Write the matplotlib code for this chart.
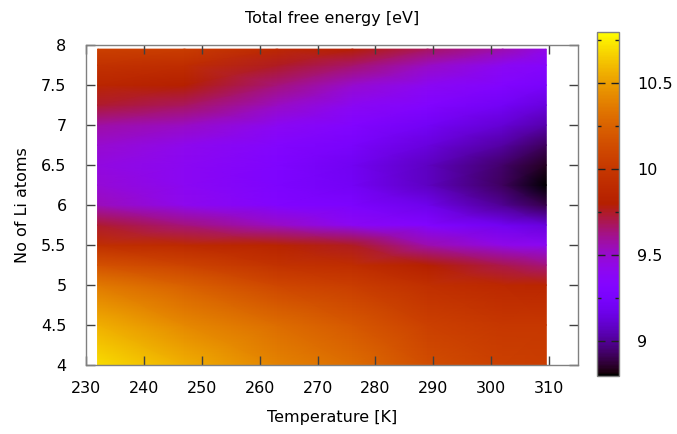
import numpy as np
import matplotlib
matplotlib.use("Agg")
import matplotlib.pyplot as plt
from matplotlib.ticker import MultipleLocator

# Temperature columns [K] and number of Li atoms rows
temperature = [232, 247, 263, 276, 289, 302, 309.5]
n_li = [4.0, 4.5, 5.0, 5.25, 5.5, 5.75, 6.0, 6.25, 6.5, 6.75, 7.0, 7.25, 7.5, 7.75, 7.95]

# Total free energy [eV] (one list per temperature column, rows follow n_li)
F_232 = [10.70, 10.56, 10.36, 10.16, 9.94, 9.74, 9.54, 9.48, 9.46, 9.50, 9.58, 9.74, 9.86, 9.96, 10.06]
F_247 = [10.56, 10.42, 10.24, 10.08, 9.90, 9.64, 9.42, 9.40, 9.40, 9.42, 9.52, 9.68, 9.80, 9.92, 10.04]
F_263 = [10.40, 10.30, 10.10, 9.96, 9.84, 9.52, 9.32, 9.29, 9.30, 9.33, 9.40, 9.52, 9.64, 9.76, 9.88]
F_276 = [10.30, 10.20, 10.04, 9.92, 9.76, 9.40, 9.28, 9.22, 9.20, 9.26, 9.32, 9.40, 9.50, 9.66, 9.80]
F_289 = [10.14, 10.06, 9.94, 9.80, 9.56, 9.32, 9.18, 9.08, 9.08, 9.14, 9.22, 9.32, 9.40, 9.52, 9.68]
F_302 = [10.06, 10.00, 9.88, 9.70, 9.44, 9.20, 9.00, 8.92, 8.94, 9.02, 9.12, 9.22, 9.32, 9.40, 9.56]
F_310 = [10.04, 10.00, 9.86, 9.64, 9.40, 9.14, 8.90, 8.80, 8.84, 8.92, 9.04, 9.14, 9.26, 9.34, 9.44]

cb_range = [8.8, 10.8]
cb_ticks = [9, 9.5, 10, 10.5]
x_ticks = [230, 240, 250, 260, 270, 280, 290, 300, 310]
y_ticks = [4, 4.5, 5, 5.5, 6, 6.5, 7, 7.5, 8]

Z = np.array([F_232, F_247, F_263, F_276, F_289, F_302, F_310]).T
T, N = np.meshgrid(temperature, n_li)

FS = 11.5
plt.rcParams['font.family'] = ['DejaVu Sans']
fig = plt.figure(figsize=(6.77, 4.34), dpi=100)
ax = fig.add_axes([0.127, 0.159, 0.727, 0.737])
cax = fig.add_axes([0.882, 0.134, 0.032, 0.793])

mesh = ax.pcolormesh(T, N, Z, shading='gouraud', cmap='gnuplot',
                     vmin=cb_range[0], vmax=cb_range[1], rasterized=True)

ax.set_xlim(230, 315)
ax.set_ylim(4, 8)
ax.set_xticks(x_ticks)
ax.set_yticks(y_ticks)
ax.set_yticklabels([f"{v:g}" for v in y_ticks])
ax.tick_params(direction='in', top=True, right=True, length=6.5, width=1,
               color='#404040', labelsize=FS)
ax.tick_params(axis='x', pad=11.5)
ax.tick_params(axis='y', pad=14)
for s in ax.spines.values():
    s.set_color('#808080')
    s.set_linewidth(1)

ax.set_xlabel('Temperature [K]', fontsize=FS, labelpad=10)
ax.set_ylabel('No of Li atoms', fontsize=FS, labelpad=8)
ax.set_title('Total free energy [eV]', fontsize=FS, pad=16)

cb = fig.colorbar(mesh, cax=cax)
cb.set_ticks(cb_ticks)
cb.set_ticklabels([f"{v:g}" for v in cb_ticks])
cb.ax.yaxis.set_minor_locator(MultipleLocator(0.25))
cb.ax.tick_params(which='both', direction='in', left=True, right=True,
                  color='#202020', labelsize=FS)
cb.ax.tick_params(which='major', length=6, width=1, pad=13)
cb.ax.tick_params(which='minor', length=3, width=1)
cb.outline.set_edgecolor('#808080')
cb.outline.set_linewidth(1)

fig.savefig('out.png', dpi=100)
